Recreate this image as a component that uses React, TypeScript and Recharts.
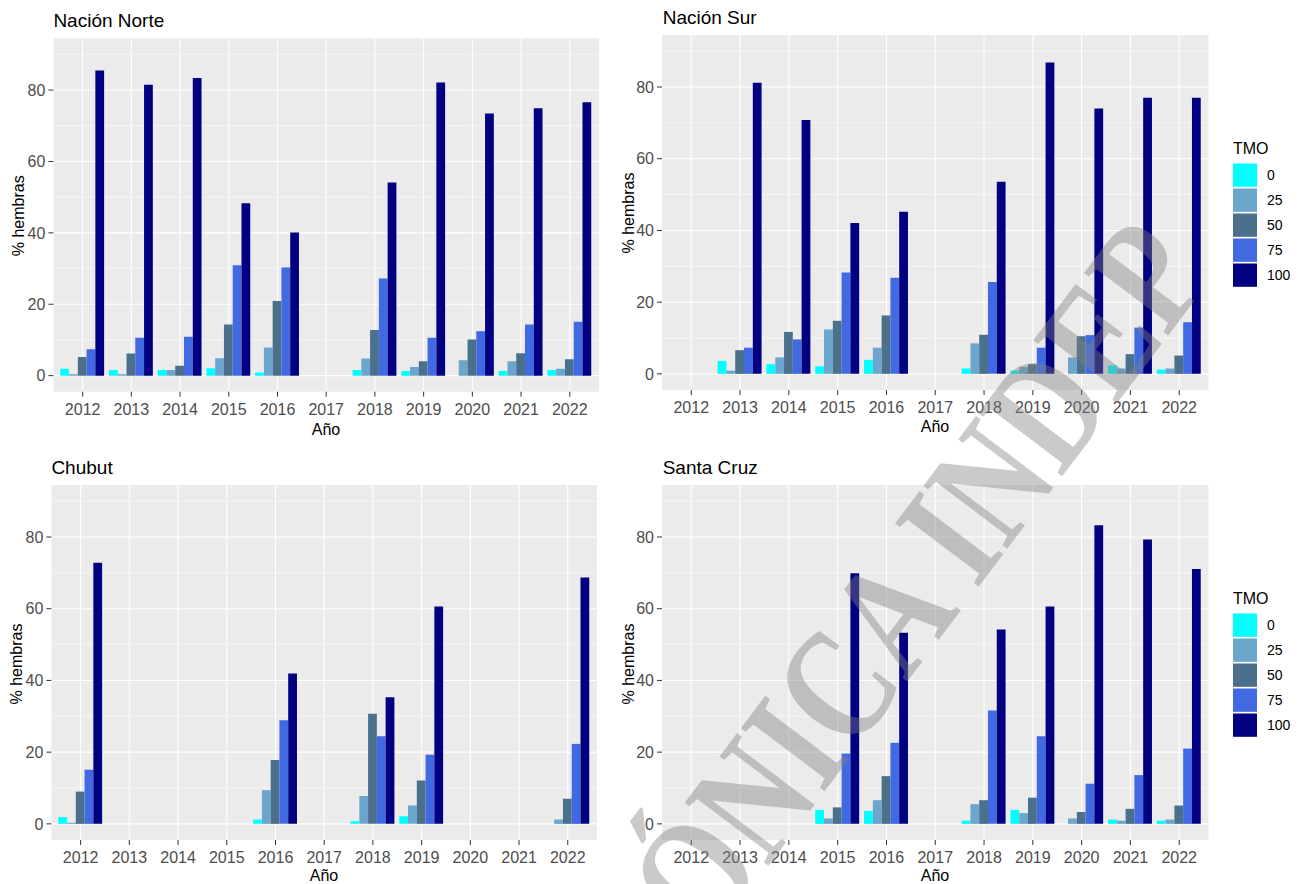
import React from "react";
import { BarChart, Bar, XAxis, YAxis, CartesianGrid } from "recharts";

const years = ["2012", "2013", "2014", "2015", "2016", "2017", "2018", "2019", "2020", "2021", "2022"];
const tmoLabels = ["0", "25", "50", "75", "100"];
const tmoColors = ["#00FFFF", "#6CA6CD", "#4A708B", "#4169E1", "#000080"];
const yTicks = [0, 20, 40, 60, 80];
const yMinor = [10, 30, 50, 70, 90];

// one row per TMO level (0, 25, 50, 75, 100), one value per year
const norte = [
  [1.9, 1.6, 1.6, 2.1, 0.9, null, 1.6, 1.3, null, 1.3, 1.6],
  [0.4, 0.4, 1.6, 4.9, 7.9, null, 4.8, 2.4, 4.3, 4.0, 1.9],
  [5.2, 6.2, 2.8, 14.3, 20.9, null, 12.8, 4.0, 10.1, 6.3, 4.6],
  [7.4, 10.6, 10.9, 30.9, 30.3, null, 27.2, 10.6, 12.4, 14.3, 15.1],
  [85.5, 81.5, 83.4, 48.3, 40.1, null, 54.1, 82.1, 73.4, 74.9, 76.6],
];
const sur = [
  [null, 3.6, 2.7, 2.1, 3.9, null, 1.5, 0.9, null, 2.4, 1.2],
  [null, 0.9, 4.6, 12.4, 7.3, null, 8.5, 1.9, 4.6, 1.5, 1.5],
  [null, 6.6, 11.7, 14.8, 16.3, null, 10.9, 2.7, 10.5, 5.5, 5.1],
  [null, 7.3, 9.6, 28.3, 26.8, null, 25.6, 7.3, 10.8, 12.9, 14.4],
  [null, 81.2, 70.8, 42.1, 45.2, null, 53.6, 86.8, 74.0, 77.0, 77.0],
];
const chubut = [
  [1.9, null, null, null, 1.2, null, 0.7, 2.1, null, null, null],
  [0.3, null, null, null, 9.4, null, 7.8, 5.1, null, null, 1.2],
  [9.0, null, null, null, 17.8, null, 30.7, 12.1, null, null, 7.0],
  [15.1, null, null, null, 28.9, null, 24.4, 19.3, null, null, 22.3],
  [72.8, null, null, null, 41.9, null, 35.3, 60.6, null, null, 68.7],
];
const santaCruz = [
  [null, null, null, 3.9, 3.6, null, 0.9, 3.9, null, 1.2, 0.9],
  [null, null, null, 1.5, 6.6, null, 5.5, 3.0, 1.5, 0.9, 1.2],
  [null, null, null, 4.6, 13.3, null, 6.6, 7.3, 3.3, 4.2, 5.1],
  [null, null, null, 19.6, 22.6, null, 31.6, 24.4, 11.2, 13.6, 21.0],
  [null, null, null, 69.9, 53.3, null, 54.2, 60.6, 83.3, 79.3, 71.1],
];

const FONT = "'Liberation Sans', Arial, sans-serif";
const TICK_GREY = "#4D4D4D";

function XTick({ x, y, payload }: any) {
  return (
    <text x={x} y={y} dy={16} textAnchor="middle" fill={TICK_GREY} fontSize={16} fontFamily={FONT}>
      {payload.value}
    </text>
  );
}

function YTick({ x, y, payload }: any) {
  return (
    <text x={x} y={y} dy={5.7} textAnchor="end" fill={TICK_GREY} fontSize={16} fontFamily={FONT}>
      {payload.value}
    </text>
  );
}

// vertical grid lines sit on the category centres, as in ggplot (axis padded by 0.1 band each side)
const centreLines = ({ offset }: any) => {
  const band = offset.width / (years.length + 0.2);
  return years.map((_, i) => offset.left + (i + 0.6) * band);
};

type Margin = { top: number; right: number; bottom: number; left: number };

function Panel({ series, width, height, margin }: { series: (number | null)[][]; width: number; height: number; margin: Margin }) {
  const rows = years.map((year, i) => {
    const row: Record<string, string | number | null> = { year };
    tmoLabels.forEach((t, k) => {
      row["t" + t] = series[k][i];
    });
    return row;
  });
  const plotW = width - margin.left - margin.right - 40;
  const pad = plotW / ((years.length + 0.2) * 10);
  const barSize = (plotW / (years.length + 0.2)) * 0.18;
  return (
    <BarChart width={width} height={height} data={rows} margin={margin} barGap={0} barSize={barSize}>
      <CartesianGrid fill="#EBEBEB" fillOpacity={1} stroke="#FFFFFF" strokeWidth={0.55} vertical={false} horizontalValues={yMinor} />
      <CartesianGrid stroke="#FFFFFF" strokeWidth={1.1} horizontalValues={yTicks} verticalCoordinatesGenerator={centreLines} />
      <XAxis
        dataKey="year"
        interval={0}
        padding={{ left: pad, right: pad }}
        axisLine={false}
        tickLine={{ stroke: "#333333" }}
        tickSize={5}
        tickMargin={2}
        height={30}
        tick={<XTick />}
      />
      <YAxis
        type="number"
        domain={[-4.5, 94.5]}
        ticks={yTicks}
        allowDataOverflow
        axisLine={false}
        tickLine={{ stroke: "#333333" }}
        tickSize={5}
        tickMargin={3}
        width={40}
        tick={<YTick />}
      />
      {tmoLabels.map((t, k) => (
        <Bar key={t} dataKey={"t" + t} fill={tmoColors[k]} isAnimationActive={false} />
      ))}
    </BarChart>
  );
}

function Legend({ top }: { top: number }) {
  return (
    <g>
      <text x={1233} y={top + 11.5} fontSize={16} fill="#000">TMO</text>
      {tmoLabels.map((t, k) => (
        <g key={t}>
          <rect x={1233} y={top + 21.5 + k * 25} width={24} height={23.3} fill={tmoColors[k]} />
          <text x={1267} y={top + 21.5 + k * 25 + 11.65 + 5} fontSize={14} fill="#000">{t}</text>
        </g>
      ))}
    </g>
  );
}

export default function App() {
  return (
    <div style={{ position: "absolute", left: 0, top: 0, width: 1299, height: 884, background: "#fff", fontFamily: FONT }}>
      <div style={{ position: "absolute", left: 0, top: 0 }}>
        <Panel series={norte} width={610} height={440} margin={{ top: 38.3, right: 11, bottom: 18.3, left: 13.4 }} />
      </div>
      <div style={{ position: "absolute", left: 610, top: 0 }}>
        <Panel series={sur} width={689} height={440} margin={{ top: 35, right: 90.5, bottom: 20, left: 12 }} />
      </div>
      <div style={{ position: "absolute", left: 0, top: 450 }}>
        <Panel series={chubut} width={610} height={434} margin={{ top: 35, right: 13, bottom: 14, left: 11.4 }} />
      </div>
      <div style={{ position: "absolute", left: 610, top: 450 }}>
        <Panel series={santaCruz} width={689} height={434} margin={{ top: 35, right: 90.5, bottom: 14, left: 12 }} />
      </div>
      <svg width={1299} height={884} style={{ position: "absolute", left: 0, top: 0, pointerEvents: "none" }} fontFamily={FONT}>
        <text x={53.4} y={26.7} fontSize={19} fill="#000">Nación Norte</text>
        <text x={662.7} y={24} fontSize={19} fill="#000">Nación Sur</text>
        <text x={51.4} y={474} fontSize={19} fill="#000">Chubut</text>
        <text x={662.7} y={474} fontSize={19} fill="#000">Santa Cruz</text>

        <text x={326} y={435} fontSize={16} textAnchor="middle" fill="#000">Año</text>
        <text x={935} y={432} fontSize={16} textAnchor="middle" fill="#000">Año</text>
        <text x={324} y={880.5} fontSize={16} textAnchor="middle" fill="#000">Año</text>
        <text x={935} y={880.5} fontSize={16} textAnchor="middle" fill="#000">Año</text>

        <text transform="translate(23.5,215.8) rotate(-90)" fontSize={16} textAnchor="middle" fill="#000">% hembras</text>
        <text transform="translate(634,213) rotate(-90)" fontSize={16} textAnchor="middle" fill="#000">% hembras</text>
        <text transform="translate(22,664) rotate(-90)" fontSize={16} textAnchor="middle" fill="#000">% hembras</text>
        <text transform="translate(634,664) rotate(-90)" fontSize={16} textAnchor="middle" fill="#000">% hembras</text>

        <Legend top={142} />
        <Legend top={592} />

        <text
          transform="translate(598,1092) rotate(-53) scale(0.79,1)"
          fontFamily="'Liberation Serif', 'Times New Roman', serif"
          fontWeight="bold"
          fontSize={160}
          fill="rgba(128,128,128,0.42)"
        >
          CRÓNICA INDEP
        </text>
      </svg>
    </div>
  );
}
